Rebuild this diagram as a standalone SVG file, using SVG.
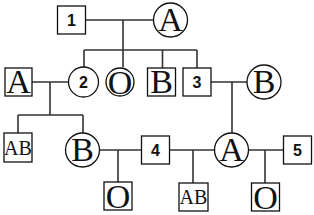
<svg xmlns="http://www.w3.org/2000/svg" width="314" height="215" viewBox="0 0 314 215">
<style>
.n{fill:#fff;stroke:#111;stroke-width:1.3}
.l{fill:none;stroke:#333;stroke-width:1.6}
.t{font-family:"Liberation Serif",serif;font-size:34px;text-anchor:middle;fill:#111}
.s{font-family:"Liberation Serif",serif;font-size:20px;text-anchor:middle;fill:#111}
.d{font-family:"Liberation Sans",Arial,sans-serif;font-weight:bold;font-size:16px;text-anchor:middle;fill:#111}
</style>
<rect width="314" height="215" fill="#fff"/>
<g id="connectors">
<path class="l" d="M85.5 20H153.5M123 20V50M84 50H197M84 50V67M123 50V67.3M162.5 50V68M197 50V68"/>
<path class="l" d="M32 82H68.5M50 82V115M18 115H83M18 115V133M83 115V133"/>
<path class="l" d="M211 82H247M232 82V133"/>
<path class="l" d="M99.5 150H141.5M118 150V182M169.5 150H214.5M193 150V183M248.5 150H283.5M265 150V183"/>
</g>
<g id="n1"><rect class="n" x="57.5" y="6" width="28" height="28"/><text class="d" x="71.5" y="25.7">1</text></g>
<g id="mA1"><circle class="n" cx="170.5" cy="20" r="17"/><text class="t" x="170.5" y="31.3">A</text></g>
<g id="fA"><rect class="n" x="5" y="68" width="27" height="28"/><text class="t" x="18.5" y="93.3">A</text></g>
<g id="n2"><circle class="n" cx="83.5" cy="82" r="15"/><text class="d" x="83.5" y="87.7">2</text></g>
<g id="cO"><circle class="n" cx="120" cy="82" r="14"/><text class="t" x="120" y="93.5">O</text></g>
<g id="sB"><rect class="n" x="147.5" y="68" width="28" height="28"/><text class="t" x="161.5" y="93.3">B</text></g>
<g id="n3"><rect class="n" x="183" y="68" width="28" height="28"/><text class="d" x="197" y="87.7">3</text></g>
<g id="cB"><circle class="n" cx="264" cy="82" r="17"/><text class="t" x="264" y="93.3">B</text></g>
<g id="sAB"><rect class="n" x="4" y="133" width="28" height="29"/><text class="s" x="18" y="154.5">AB</text></g>
<g id="cB2"><circle class="n" cx="82.5" cy="150" r="17"/><text class="t" x="82.5" y="161.3">B</text></g>
<g id="n4"><rect class="n" x="141.5" y="136" width="28" height="28"/><text class="d" x="155.5" y="155.7">4</text></g>
<g id="cA2"><circle class="n" cx="231.5" cy="150" r="17"/><text class="t" x="231.5" y="161.3">A</text></g>
<g id="n5"><rect class="n" x="283.5" y="136" width="28" height="28"/><text class="d" x="297.5" y="155.7">5</text></g>
<g id="sO"><rect class="n" x="104" y="182" width="28" height="28"/><text class="t" x="118" y="207.5">O</text></g>
<g id="sAB2"><rect class="n" x="179" y="183" width="29" height="28"/><text class="s" x="193.5" y="204">AB</text></g>
<g id="sO2"><rect class="n" x="251.5" y="183" width="28" height="28"/><text class="t" x="265.5" y="208.5">O</text></g>
</svg>
